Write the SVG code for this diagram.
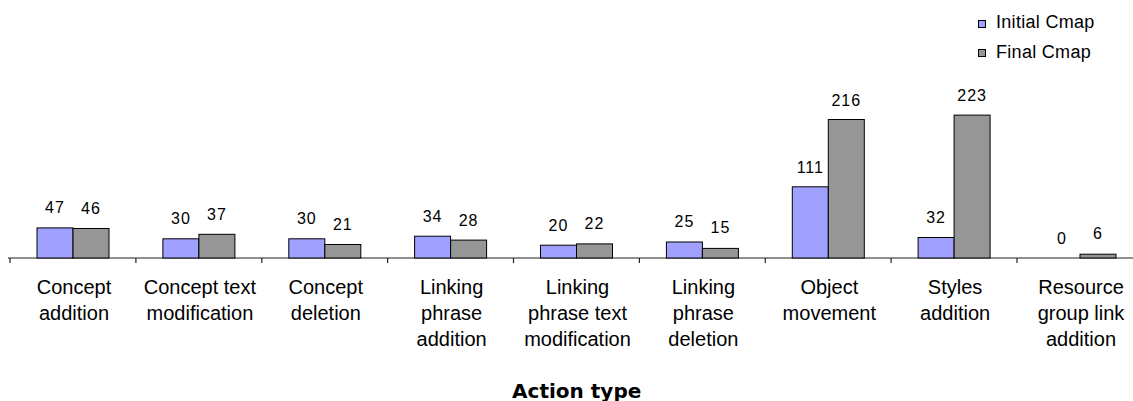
<svg xmlns="http://www.w3.org/2000/svg" width="1133" height="401" viewBox="0 0 1133 401">
  <style>
    .bar1 { fill: #A0A0FF; stroke: #000; stroke-width: 1; }
    .bar2 { fill: #969696; stroke: #000; stroke-width: 1; }
    .val { font-family: "Liberation Sans", Arial, sans-serif; font-size: 16px; letter-spacing: 1px; fill: #000; text-anchor: middle; }
    .cat { font-family: "Liberation Sans", Arial, sans-serif; font-size: 20px; fill: #000; text-anchor: middle; }
    .leg { font-family: "Liberation Sans", Arial, sans-serif; font-size: 18px; letter-spacing: 0.3px; fill: #000; }
    .title { font-family: "DejaVu Sans", Verdana, sans-serif; font-size: 20px; font-weight: bold; fill: #000; text-anchor: middle; }
    .axis { stroke: #222; stroke-width: 1.2; fill: none; }
  </style>
  <rect width="1133" height="401" fill="#fff"/>

  <!-- category axis with ticks -->
  <g id="connectors">
    <line class="axis" x1="8" y1="258" x2="1133" y2="258"/>
    <path class="axis" d="M10,258v5 M135.9,258v5 M261.8,258v5 M387.6,258v5 M513.5,258v5 M639.4,258v5 M765.3,258v5 M891.1,258v5 M1017,258v5"/>
  </g>

  <!-- Concept addition -->
  <g id="cat-concept-addition">
    <rect class="bar1" x="37" y="227.9" width="36" height="30.1"/>
    <rect class="bar2" x="73" y="228.5" width="36" height="29.5"/>
    <text class="val" x="55" y="213">47</text>
    <text class="val" x="91" y="213.5">46</text>
    <text class="cat" x="74" y="294">Concept</text>
    <text class="cat" x="74" y="320">addition</text>
  </g>

  <!-- Concept text modification -->
  <g id="cat-concept-text-modification">
    <rect class="bar1" x="162.9" y="238.8" width="36" height="19.2"/>
    <rect class="bar2" x="198.9" y="234.3" width="36" height="23.7"/>
    <text class="val" x="180.9" y="224">30</text>
    <text class="val" x="216.9" y="220">37</text>
    <text class="cat" x="199.9" y="294">Concept text</text>
    <text class="cat" x="199.9" y="320">modification</text>
  </g>

  <!-- Concept deletion -->
  <g id="cat-concept-deletion">
    <rect class="bar1" x="288.8" y="238.8" width="36" height="19.2"/>
    <rect class="bar2" x="324.8" y="244.5" width="36" height="13.5"/>
    <text class="val" x="306.8" y="224">30</text>
    <text class="val" x="342.8" y="230">21</text>
    <text class="cat" x="325.8" y="294">Concept</text>
    <text class="cat" x="325.8" y="320">deletion</text>
  </g>

  <!-- Linking phrase addition -->
  <g id="cat-linking-phrase-addition">
    <rect class="bar1" x="414.6" y="236.2" width="36" height="21.8"/>
    <rect class="bar2" x="450.6" y="240.1" width="36" height="17.9"/>
    <text class="val" x="432.6" y="221.5">34</text>
    <text class="val" x="468.6" y="225.5">28</text>
    <text class="cat" x="451.6" y="294">Linking</text>
    <text class="cat" x="451.6" y="320">phrase</text>
    <text class="cat" x="451.6" y="346">addition</text>
  </g>

  <!-- Linking phrase text modification -->
  <g id="cat-linking-phrase-text-modification">
    <rect class="bar1" x="540.5" y="245.2" width="36" height="12.8"/>
    <rect class="bar2" x="576.5" y="243.9" width="36" height="14.1"/>
    <text class="val" x="558.5" y="230.5">20</text>
    <text class="val" x="594.5" y="229">22</text>
    <text class="cat" x="577.5" y="294">Linking</text>
    <text class="cat" x="577.5" y="320">phrase text</text>
    <text class="cat" x="577.5" y="346">modification</text>
  </g>

  <!-- Linking phrase deletion -->
  <g id="cat-linking-phrase-deletion">
    <rect class="bar1" x="666.4" y="242" width="36" height="16"/>
    <rect class="bar2" x="702.4" y="248.4" width="36" height="9.6"/>
    <text class="val" x="684.4" y="227">25</text>
    <text class="val" x="720.4" y="233">15</text>
    <text class="cat" x="703.4" y="294">Linking</text>
    <text class="cat" x="703.4" y="320">phrase</text>
    <text class="cat" x="703.4" y="346">deletion</text>
  </g>

  <!-- Object movement -->
  <g id="cat-object-movement">
    <rect class="bar1" x="792.3" y="186.8" width="36" height="71.2"/>
    <rect class="bar2" x="828.3" y="119.5" width="36" height="138.5"/>
    <text class="val" x="810.3" y="173">111</text>
    <text class="val" x="846.3" y="106">216</text>
    <text class="cat" x="829.3" y="294">Object</text>
    <text class="cat" x="829.3" y="320">movement</text>
  </g>

  <!-- Styles addition -->
  <g id="cat-styles-addition">
    <rect class="bar1" x="918.1" y="237.5" width="36" height="20.5"/>
    <rect class="bar2" x="954.1" y="115.1" width="36" height="142.9"/>
    <text class="val" x="936.1" y="222.5">32</text>
    <text class="val" x="972.1" y="101">223</text>
    <text class="cat" x="955.1" y="294">Styles</text>
    <text class="cat" x="955.1" y="320">addition</text>
  </g>

  <!-- Resource group link addition -->
  <g id="cat-resource-group-link-addition">
    <rect class="bar2" x="1080" y="254.2" width="36" height="3.8"/>
    <text class="val" x="1062" y="243.5">0</text>
    <text class="val" x="1098" y="238.5">6</text>
    <text class="cat" x="1081" y="294">Resource</text>
    <text class="cat" x="1081" y="320">group link</text>
    <text class="cat" x="1081" y="346">addition</text>
  </g>

  <!-- legend -->
  <g id="legend">
    <rect class="bar1" x="978.5" y="20.5" width="7" height="7"/>
    <text class="leg" x="996" y="28">Initial Cmap</text>
    <rect class="bar2" x="978.5" y="49.5" width="7" height="7"/>
    <text class="leg" x="996" y="58">Final Cmap</text>
  </g>

  <!-- axis title -->
  <g id="axis-title">
    <text class="title" x="576.7" y="397.5">Action type</text>
  </g>
</svg>
